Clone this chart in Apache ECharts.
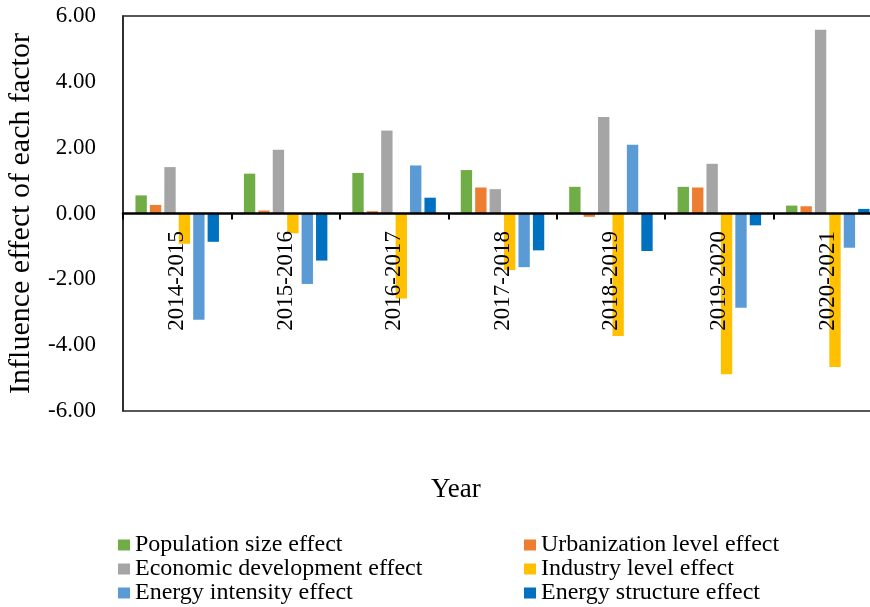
<!DOCTYPE html>
<html>
<head>
<meta charset="utf-8">
<script src="https://cdn.jsdelivr.net/npm/echarts@6/dist/echarts.min.js"></script>
<style>
html,body{margin:0;padding:0;background:#fff;}
#chart{width:870px;height:607px;}
</style>
</head>
<body>
<div id="chart"></div>
<script>
var categories = ['2014-2015','2015-2016','2016-2017','2017-2018','2018-2019','2019-2020','2020-2021'];
var seriesNames = ['Population size effect','Urbanization level effect','Economic development effect','Industry level effect','Energy intensity effect','Energy structure effect'];
var populationSize = [0.55, 1.21, 1.23, 1.32, 0.81, 0.81, 0.24];
var urbanizationLevel = [0.26, 0.09, 0.07, 0.79, -0.10, 0.79, 0.22];
var economicDevelopment = [1.41, 1.94, 2.52, 0.74, 2.93, 1.51, 5.58];
var industryLevel = [-0.92, -0.60, -2.58, -1.72, -3.72, -4.88, -4.66];
var energyIntensity = [-3.23, -2.14, 1.46, -1.63, 2.09, -2.86, -1.04];
var energyStructure = [-0.86, -1.43, 0.48, -1.12, -1.14, -0.36, 0.14];
var yTicks = [-6, -4, -2, 0, 2, 4, 6];

var colors = ['#70AD47','#ED7D31','#A5A5A5','#FFC000','#5B9BD5','#0070C0'];
var values = [populationSize, urbanizationLevel, economicDevelopment, industryLevel, energyIntensity, energyStructure];
var font = '"Liberation Serif", "Times New Roman", serif';

var chart = echarts.init(document.getElementById('chart'), null, {renderer:'canvas'});
var series = seriesNames.map(function(n, i){
  return {
    name: n, type: 'bar', data: values[i],
    barGap: '27%', barCategoryGap: '23%',
    itemStyle: {color: colors[i]},
    animation: false
  };
});
var legendStyle = {fontSize: 24, lineHeight: 23, fontFamily: font, color: '#000'};
chart.setOption({
  animation: false,
  color: colors,
  grid: {left: 123, top: 16, width: 759, height: 395, show: true, borderColor: '#222', borderWidth: 1.5,
         containLabel: false, outerBoundsMode: 'none'},
  title: {text: 'Year', left: 431, top: 476, padding: 0,
          textStyle: {fontSize: 27, fontWeight: 'normal', fontFamily: font, color: '#000'}},
  legend: [
    {data: [seriesNames[0], seriesNames[2], seriesNames[4]], orient: 'vertical', left: 118, top: 533, padding: 0,
     height: 80, itemWidth: 12, itemHeight: 11, itemGap: 0, icon: 'rect', textStyle: legendStyle},
    {data: [seriesNames[1], seriesNames[3], seriesNames[5]], orient: 'vertical', left: 524, top: 533, padding: 0,
     height: 80, itemWidth: 12, itemHeight: 11, itemGap: 0, icon: 'rect', textStyle: legendStyle}
  ],
  xAxis: {
    type: 'category', data: categories, z: 10,
    axisLine: {onZero: true, lineStyle: {color: '#000', width: 2.5}},
    axisTick: {show: true, length: 6, lineStyle: {color: '#000', width: 2}},
    axisLabel: {rotate: 90, margin: -180, interval: 0, fontSize: 23, fontFamily: font, color: '#000'},
    splitLine: {show: false}
  },
  yAxis: {
    type: 'value', min: yTicks[0], max: yTicks[yTicks.length-1], interval: 2,
    name: 'Influence effect of each factor', nameLocation: 'middle', nameGap: 87,
    nameTextStyle: {fontSize: 30, fontFamily: font, color: '#000'},
    axisLine: {show: true, lineStyle: {color: '#222', width: 1.5}},
    axisTick: {show: false},
    splitLine: {show: false},
    axisLabel: {margin: 27, fontSize: 23, fontFamily: font, color: '#000',
      formatter: function(v){ return v.toFixed(2); }}
  },
  series: series
});
</script>
</body>
</html>
